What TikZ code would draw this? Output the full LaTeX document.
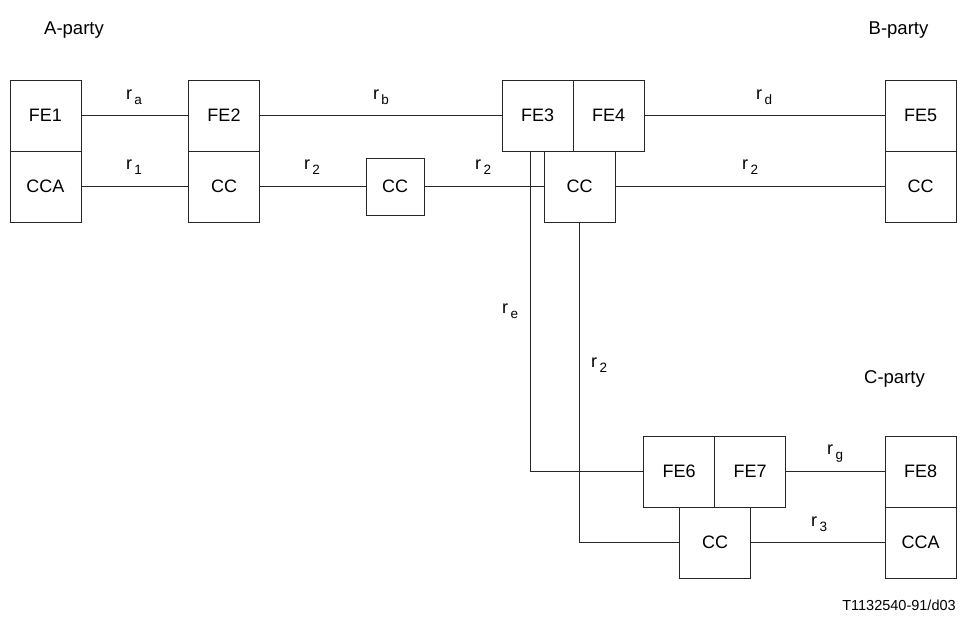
\documentclass[tikz,border=0pt]{standalone}
\usepackage{fontspec}
\setmainfont{Liberation Sans}
\newcommand\rlab[1]{r\kern2.5pt\raisebox{-5pt}{\fontsize{13.5}{13.5}\selectfont #1}}
\begin{document}
\begin{tikzpicture}[x=1pt,y=-1pt,
  box/.style={draw=black!85,line width=0.9pt,minimum width=71pt,minimum height=71pt,inner sep=0pt,font=\fontsize{18}{21}\selectfont},
  smallbox/.style={box,minimum width=58pt,minimum height=57pt},
  wire/.style={draw=black!85,line width=0.9pt},
  lab/.style={inner sep=0pt,font=\fontsize{18}{21}\selectfont},
  party/.style={inner sep=0pt,font=\fontsize{18.5}{21}\selectfont}]
\useasboundingbox (0,0) rectangle (960,619);
\fill[white] (0,0) rectangle (960,619);
% A-party side
\node[box] (fe1) at (45.5,115.5) {FE1};
\node[box] (cca1) at (45.5,186.5) {CCA};
\node[box] (fe2) at (224,115.5) {FE2};
\node[box] (cc2) at (224,186.5) {CC};
\node[smallbox] (cc3) at (395,186.5) {CC};
% middle
\node[box] (fe3) at (537.5,115.5) {FE3};
\node[box] (fe4) at (608.5,115.5) {FE4};
\node[box] (cc4) at (579.5,186.5) {CC};
% B-party
\node[box] (fe5) at (920.5,115.5) {FE5};
\node[box] (cc5) at (920.5,186.5) {CC};
% C side
\node[box] (fe6) at (679,471.5) {FE6};
\node[box] (fe7) at (750,471.5) {FE7};
\node[box] (cc6) at (715,542.5) {CC};
\node[box] (fe8) at (920.5,471.5) {FE8};
\node[box] (cca8) at (920.5,542.5) {CCA};
% connectors
\draw[wire] (fe1) -- (fe2);
\draw[wire] (cca1) -- (cc2);
\draw[wire] (cc2) -- (cc3);
\draw[wire] (cc3) -- (cc4);
\draw[wire] (fe2) -- (fe3);
\draw[wire] (fe4) -- (fe5);
\draw[wire] (cc4) -- (cc5);
\draw[wire] ([xshift=-7.5pt]fe3.south) |- (fe6.west);
\draw[wire] (cc4.south) |- (cc6.west);
\draw[wire] (fe7) -- (fe8);
\draw[wire] (cc6) -- (cca8);
% labels
\node[lab] (la) at (134,97) {\rlab{a}};
\node[lab] (l1) at (134,167) {\rlab{1}};
\node[lab] (lb) at (381,97) {\rlab{b}};
\node[lab] (l2a) at (312,167) {\rlab{2}};
\node[lab] (l2b) at (483,167) {\rlab{2}};
\node[lab] (ld) at (764,97) {\rlab{d}};
\node[lab] (l2c) at (750,167) {\rlab{2}};
\node[lab] (le) at (510,311) {\rlab{e}};
\node[lab] (l2d) at (599,365) {\rlab{2}};
\node[lab] (lg) at (835,454) {\rlab{g}};
\node[lab] (l3) at (819,524) {\rlab{3}};
% parties
\node[party] (pa) at (74,30) {A-party};
\node[party] (pb) at (898.5,30) {B-party};
\node[party] (pc) at (894.5,379) {C-party};
\node[inner sep=0pt,font=\fontsize{14.5}{17}\selectfont] (ref) at (899,605) {T1132540-91/d03};
\end{tikzpicture}
\end{document}
